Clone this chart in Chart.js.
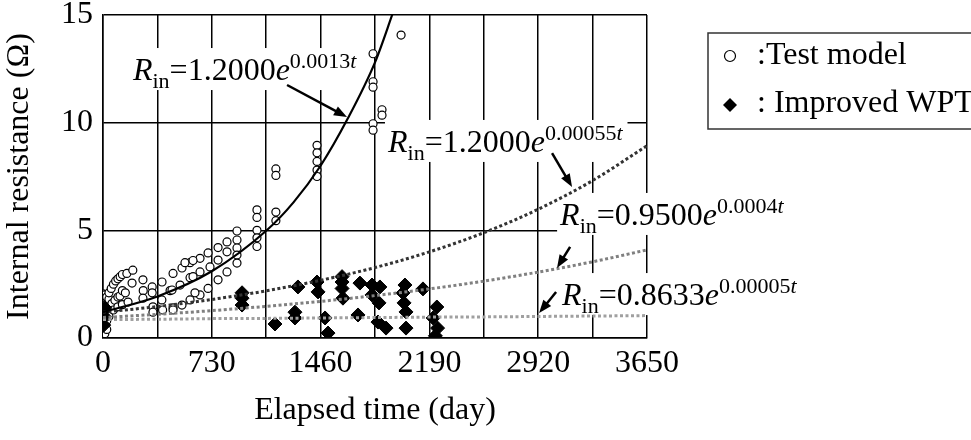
<!DOCTYPE html>
<html>
<head>
<meta charset="utf-8">
<script src="https://cdn.jsdelivr.net/npm/chart.js@4.4.1/dist/chart.umd.min.js"></script>
<style>
  html, body { margin: 0; padding: 0; background: #fff; }
  #wrap { width: 971px; height: 440px; }
</style>
</head>
<body>
<div id="wrap"><canvas id="resistanceChart" width="971" height="440"></canvas></div>
<script>
const SERIF = '"Liberation Serif", "Times New Roman", serif';

// tick positions and labels
const gridDays = [0, 365, 730, 1095, 1460, 1825, 2190, 2555, 2920, 3285, 3650];
const xTickLabels = ['0', '730', '1460', '2190', '2920', '3650'];
const yTickLabels = ['0', '5', '10', '15'];

// Test model (open circles)
const testDays = [
  0, 0, 0, 0, 0, 0, 0, 0, 0,
  12, 12, 12, 12, 12, 12, 12, 12,
  25, 25, 25, 25, 25, 40, 40, 40, 40,
  55, 70, 85, 100, 115, 130, 160, 200,
  60, 80, 100, 114, 130, 150, 195,
  70, 100, 130, 168,
  268, 270, 268, 330, 330, 335, 335,
  396, 395, 400, 450, 470,
  470, 530, 584, 651, 705, 772, 832, 899, 899, 899, 899, 899,
  463, 517, 584, 651, 718, 772, 832,
  470, 530, 584, 651, 705, 772, 832,
  550, 604, 604, 617,
  1033, 1033, 1033, 1033, 1033, 1160, 1160, 1160, 1160,
  1436, 1436, 1436, 1436, 1436,
  1812, 1812, 1812, 1872, 1872, 1812, 1812, 2000
];
const testRes = [
  0.1, 0.35, 0.6, 0.85, 1.1, 1.35, 1.6, 1.85, 2.05,
  0.2, 0.5, 0.75, 1.0, 1.25, 1.5, 1.75, 2.0,
  0.4, 0.8, 1.2, 1.6, 1.9, 1.0, 1.4, 1.8, 2.1,
  2.3, 2.5, 2.65, 2.75, 2.85, 2.95, 3.0, 3.15,
  1.6, 1.75, 1.9, 1.95, 2.2, 2.1, 2.55,
  1.3, 1.45, 1.55, 1.67,
  2.7, 2.2, 1.85, 2.37, 2.1, 1.45, 1.2,
  2.6, 1.77, 1.3, 2.2, 1.4,
  3.0, 3.25, 3.5, 3.7, 3.95, 4.2, 4.46, 4.97, 4.55, 4.18, 3.85, 3.48,
  2.23, 2.46, 2.8, 3.07, 3.3, 3.62, 4.0,
  1.3, 1.53, 1.77, 2.0, 2.3, 2.7, 3.07,
  3.5, 3.6, 2.85, 2.1,
  5.95, 5.6, 5.0, 4.65, 4.25, 5.85, 5.45, 7.85, 7.55,
  8.95, 8.6, 8.2, 7.8, 7.5,
  13.2, 11.9, 11.65, 10.6, 10.35, 9.95, 9.65, 14.07
];

// Improved WPT (filled diamonds)
const wptDays = [
  5, 8, 12,
  933, 933, 933,
  1154, 1288, 1288, 1308, 1436, 1443, 1490, 1510,
  1604, 1604, 1604, 1610, 1711, 1724, 1805, 1858, 1805, 1852, 1845, 1899,
  2026, 2013, 2020, 2033, 2033, 2147, 2240, 2215, 2245, 2230
];
const wptRes = [
  0.6, 1.0, 1.4,
  2.1, 1.85, 1.53,
  0.65, 1.2, 0.93, 2.37, 2.6, 2.14, 0.93, 0.23,
  2.85, 2.6, 2.3, 1.85, 1.07, 2.55, 2.46, 2.37, 2.0, 1.63, 0.74, 0.46,
  2.46, 2.09, 1.63, 1.21, 0.46, 2.28, 1.44, 0.93, 0.46, 0.1
];

// fitted curves
const testFitDays = [0, 365, 730, 1095, 1278, 1460, 1643, 1825, 1940, 2000];
const testFitRes = [1.2, 1.93, 3.1, 4.98, 6.3, 8.0, 10.2, 12.8, 15.0, 16.2];
const fitDays = [0, 365, 730, 1095, 1460, 1825, 2190, 2555, 2920, 3285, 3650];
const fitA = [1.2, 1.46, 1.79, 2.19, 2.68, 3.27, 4.0, 4.89, 5.98, 7.31, 8.93];
const fitB = [0.95, 1.1, 1.27, 1.47, 1.7, 1.97, 2.28, 2.64, 3.06, 3.54, 4.09];
const fitC = [0.86, 0.87, 0.9, 0.91, 0.93, 0.95, 0.97, 0.98, 1.0, 1.02, 1.04];

const toXY = (xs, ys) => xs.map((x, i) => ({ x: x, y: ys[i] }));

// equation labels and arrows (data coordinates)
const rinLabels = [
  { day: 201, value: 11.98, coef: '1.2000', power: '0.0013' },
  { day: 1912, value: 8.64, coef: '1.2000', power: '0.00055' },
  { day: 3067, value: 5.25, coef: '0.9500', power: '0.0004' },
  { day: 3080, value: 1.53, coef: '0.8633', power: '0.00005' }
];
const arrows = [
  [1235, 11.75, 1637, 10.26],
  [3013, 8.59, 3147, 7.01],
  [3134, 4.23, 3046, 3.25],
  [3040, 2.14, 2926, 1.16]
];

const drawRin = (ctx, x, y, coef, power, measureOnly) => {
  const parts = [
    ['italic 32px ' + SERIF, 'R', 0],
    ['22px ' + SERIF, 'in', 8],
    ['32px ' + SERIF, '=' + coef, 0],
    ['italic 32px ' + SERIF, 'e', 0],
    ['22px ' + SERIF, power, -12],
    ['italic 22px ' + SERIF, 't', -12]
  ];
  let cx = x;
  parts.forEach(([font, text, dy]) => {
    ctx.font = font;
    if (!measureOnly) ctx.fillText(text, cx, y + dy);
    cx += ctx.measureText(text).width;
  });
  return cx - x;
};

const annotationPlugin = {
  id: 'rinAnnotations',
  beforeDatasetsDraw(chart) {
    const { ctx, scales } = chart;
    ctx.save();
    ctx.fillStyle = '#fff';
    rinLabels.forEach(l => {
      const x = scales.x.getPixelForValue(l.day);
      const y = scales.y.getPixelForValue(l.value);
      const w = drawRin(ctx, x, y, l.coef, l.power, true);
      ctx.fillRect(x - 3, y - 32, w + 8, 42);
    });
    ctx.restore();
  },
  afterDatasetsDraw(chart) {
    const { ctx, scales } = chart;
    ctx.save();
    ctx.fillStyle = '#000';
    ctx.textBaseline = 'alphabetic';
    ctx.textAlign = 'left';
    rinLabels.forEach(l => {
      drawRin(ctx, scales.x.getPixelForValue(l.day), scales.y.getPixelForValue(l.value), l.coef, l.power, false);
    });

    ctx.strokeStyle = '#000';
    ctx.lineWidth = 2.5;
    arrows.forEach(a => {
      const x1 = scales.x.getPixelForValue(a[0]);
      const y1 = scales.y.getPixelForValue(a[1]);
      const x2 = scales.x.getPixelForValue(a[2]);
      const y2 = scales.y.getPixelForValue(a[3]);
      const ang = Math.atan2(y2 - y1, x2 - x1);
      const head = 13;
      ctx.beginPath();
      ctx.moveTo(x1, y1);
      ctx.lineTo(x2 - Math.cos(ang) * head * 0.8, y2 - Math.sin(ang) * head * 0.8);
      ctx.stroke();
      ctx.beginPath();
      ctx.moveTo(x2, y2);
      ctx.lineTo(x2 - head * Math.cos(ang) + 5 * Math.sin(ang), y2 - head * Math.sin(ang) - 5 * Math.cos(ang));
      ctx.lineTo(x2 - head * Math.cos(ang) - 5 * Math.sin(ang), y2 - head * Math.sin(ang) + 5 * Math.cos(ang));
      ctx.closePath();
      ctx.fill();
    });
    ctx.restore();
  },
  afterDraw(chart) {
    const ctx = chart.ctx;
    ctx.save();
    // legend box
    ctx.strokeStyle = '#333';
    ctx.lineWidth = 1.5;
    ctx.strokeRect(708, 33, 300, 96);
    ctx.fillStyle = '#000';
    ctx.font = '32px ' + SERIF;
    ctx.textBaseline = 'alphabetic';
    ctx.fillText(':Test model', 757, 64);
    ctx.fillText(': Improved WPT', 757, 112);
    ctx.lineWidth = 1.2;
    ctx.strokeStyle = '#000';
    ctx.beginPath();
    ctx.arc(730, 56, 5.5, 0, Math.PI * 2);
    ctx.stroke();
    ctx.beginPath();
    ctx.moveTo(730, 98);
    ctx.lineTo(737, 105);
    ctx.lineTo(730, 112);
    ctx.lineTo(723, 105);
    ctx.closePath();
    ctx.fill();
    ctx.restore();
  }
};

const fitLine = (label, xs, ys, color, dash, width) => ({
  type: 'line',
  label: label,
  data: toXY(xs, ys),
  borderColor: color,
  borderWidth: width,
  borderDash: dash,
  pointRadius: 0,
  fill: false,
  tension: 0.4,
  cubicInterpolationMode: 'monotone'
});

Chart.defaults.font.family = SERIF;
Chart.defaults.color = '#000';

new Chart(document.getElementById('resistanceChart').getContext('2d'), {
  type: 'scatter',
  data: {
    datasets: [
      fitLine('Test model fit', testFitDays, testFitRes, '#000', [], 2.2),
      fitLine('Fit 1.2000', fitDays, fitA, '#333', [3, 2.5], 3),
      fitLine('Fit 0.9500', fitDays, fitB, '#808080', [3, 2.5], 3),
      fitLine('Fit 0.8633', fitDays, fitC, '#a0a0a0', [3, 2.5], 3),
      {
        label: 'Improved WPT',
        data: toXY(wptDays, wptRes),
        pointStyle: 'rectRot',
        pointRadius: 7,
        backgroundColor: '#000',
        borderColor: '#000',
        borderWidth: 1
      },
      {
        label: 'Test model',
        data: toXY(testDays, testRes),
        pointStyle: 'circle',
        pointRadius: 4,
        backgroundColor: '#fff',
        borderColor: '#000',
        borderWidth: 1.2
      }
    ]
  },
  options: {
    responsive: false,
    animation: false,
    layout: { padding: { top: 15, right: 324, left: 0, bottom: 10 } },
    plugins: {
      legend: { display: false },
      tooltip: { enabled: false }
    },
    scales: {
      x: {
        type: 'linear',
        min: 0,
        max: 3650,
        afterBuildTicks: scale => {
          scale.ticks = gridDays.map(v => ({ value: v }));
        },
        afterFit: scale => {
          scale.height = 92;
          scale.paddingLeft = 0;
          scale.paddingRight = 0;
        },
        ticks: {
          font: { size: 32 },
          padding: 6,
          maxRotation: 0,
          autoSkip: false,
          callback: value => (xTickLabels.includes(String(value)) ? String(value) : '')
        },
        grid: { color: '#000', lineWidth: 1.5, drawTicks: false },
        border: { color: '#000', width: 1.5 },
        title: { display: true, text: 'Elapsed time (day)', font: { size: 32 }, padding: { top: 4, bottom: 0 } }
      },
      y: {
        min: 0,
        max: 15,
        afterBuildTicks: scale => {
          scale.ticks = yTickLabels.map(v => ({ value: Number(v) }));
        },
        afterFit: scale => {
          scale.width = 103;
          scale.paddingTop = 0;
          scale.paddingBottom = 0;
        },
        ticks: {
          font: { size: 32 },
          padding: 10,
          callback: value => String(value)
        },
        grid: { color: '#000', lineWidth: 1.5, drawTicks: false },
        border: { color: '#000', width: 1.5 },
        title: { display: true, text: 'Internal resistance (Ω)', font: { size: 32 }, padding: { top: 0, bottom: 0 } }
      }
    }
  },
  plugins: [annotationPlugin]
});
</script>
</body>
</html>
